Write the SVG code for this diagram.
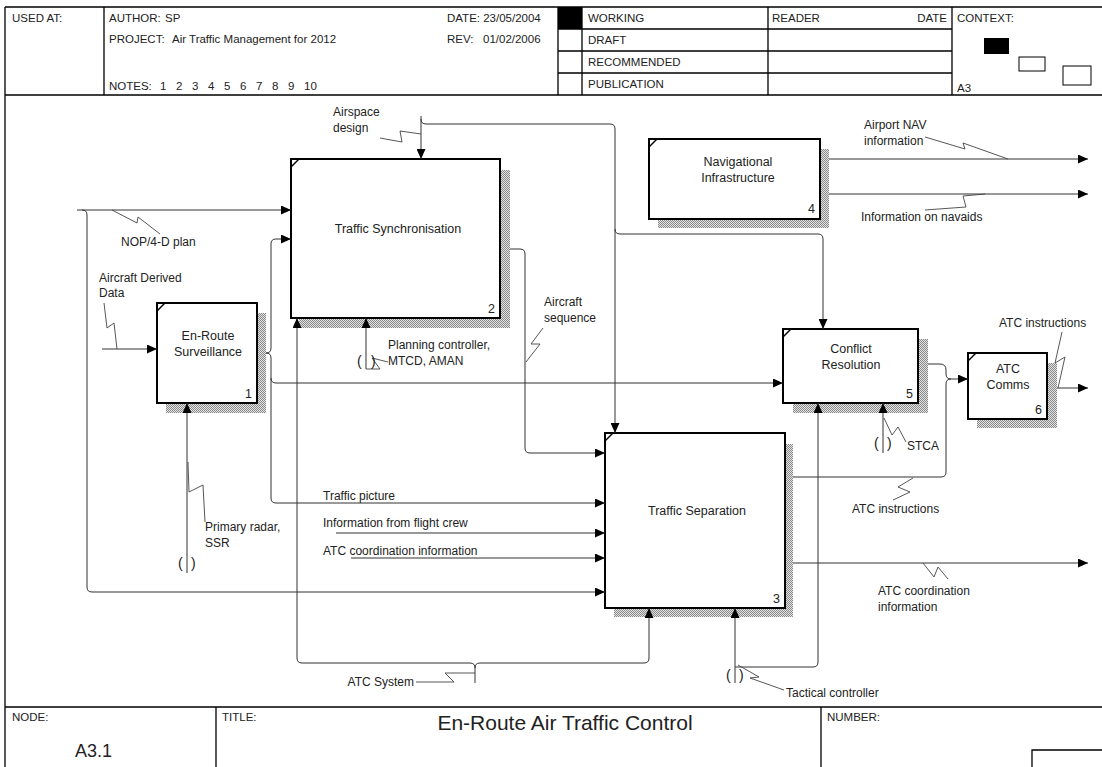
<svg xmlns="http://www.w3.org/2000/svg" width="1102" height="767" viewBox="0 0 1102 767">
<style>
text{font-family:"Liberation Sans",Arial,sans-serif;fill:#222}
.h{font-size:11.5px}
.lb{font-size:12px}
.bl{font-size:12.5px;text-anchor:middle}
.num{font-size:12.5px;text-anchor:end}
.par{font-size:14px}
.frame{stroke:#000;stroke-width:1.3;fill:none}
.box{fill:#fff;stroke:#000;stroke-width:2}
.sh{fill:url(#dots)}
.c{fill:none;stroke:#333;stroke-width:1}
.ca{fill:none;stroke:#333;stroke-width:1;marker-end:url(#ah)}
.sq{fill:none;stroke:#444;stroke-width:0.9}
</style>
<defs>
<pattern id="dots" width="2" height="2" patternUnits="userSpaceOnUse">
<rect width="2" height="2" fill="#e2e2e2"/>
<rect width="1" height="1" fill="#8a8a8a"/>
<rect x="1" y="1" width="1" height="1" fill="#8a8a8a"/>
</pattern>
<marker id="ah" markerUnits="userSpaceOnUse" markerWidth="11" markerHeight="9" refX="10" refY="4.5" orient="auto">
<path d="M0,0 L10,4.5 L0,9 z" fill="#000"/>
</marker>
</defs>
<rect width="1102" height="767" fill="#fff"/>

<g id="frame">
<path class="frame" d="M5,7 H1102 M5,7 V767 M5,95 H1102 M5,707 H1102"/>
<path class="frame" d="M104,7 V95 M558,7 V95 M582,7 V95 M768,7 V95 M952,7 V95"/>
<path class="frame" d="M558,29 H952 M558,51 H952 M558,73 H952"/>
<rect x="558" y="7" width="24" height="22" fill="#000"/>
<rect x="984" y="38" width="25" height="16" fill="#000"/>
<rect x="1019" y="57" width="26" height="14" fill="none" stroke="#000" stroke-width="1"/>
<rect x="1063" y="66" width="28" height="19" fill="none" stroke="#000" stroke-width="1"/>
<path class="frame" d="M216,707 V767 M821,707 V767 M1032,767 V750 H1102"/>
<text class="h" x="12" y="22">USED AT:</text>
<text class="h" x="109" y="22"><tspan>AUTHOR:</tspan><tspan x="165">SP</tspan></text>
<text class="h" x="109" y="43"><tspan>PROJECT:</tspan><tspan x="172">Air Traffic Management for 2012</tspan></text>
<text class="h" x="109" y="90"><tspan>NOTES:</tspan><tspan x="160">1</tspan><tspan x="176">2</tspan><tspan x="192">3</tspan><tspan x="208">4</tspan><tspan x="224">5</tspan><tspan x="240">6</tspan><tspan x="256">7</tspan><tspan x="272">8</tspan><tspan x="288">9</tspan><tspan x="304">10</tspan></text>
<text class="h" x="447" y="22">DATE: 23/05/2004</text>
<text class="h" x="447" y="43"><tspan>REV:</tspan><tspan x="483">01/02/2006</tspan></text>
<text class="h" x="588" y="22">WORKING</text>
<text class="h" x="588" y="44">DRAFT</text>
<text class="h" x="588" y="66">RECOMMENDED</text>
<text class="h" x="588" y="88">PUBLICATION</text>
<text class="h" x="772" y="22">READER</text>
<text class="h" x="947" y="22" text-anchor="end">DATE</text>
<text class="h" x="957" y="22">CONTEXT:</text>
<text class="h" x="957" y="92">A3</text>
<text class="h" x="12" y="721">NODE:</text>
<text class="h" x="222" y="721">TITLE:</text>
<text class="h" x="827" y="721">NUMBER:</text>
<text x="565" y="730" font-size="21" text-anchor="middle">En-Route Air Traffic Control</text>
<text x="75" y="757" font-size="18">A3.1</text>
</g>

<g id="node1">
<rect class="sh" x="166" y="313" width="100" height="100"/>
<rect class="box" x="157" y="303" width="100" height="100"/>
<path d="M157,311 L165,303" stroke="#000" stroke-width="1.5"/>
<text class="bl" x="208" y="340">En-Route</text>
<text class="bl" x="208" y="356">Surveillance</text>
<text class="num" x="252" y="398">1</text>
</g>

<g id="node2">
<rect class="sh" x="299" y="170" width="211" height="158"/>
<rect class="box" x="291" y="159" width="209" height="159"/>
<path d="M291,167 L299,159" stroke="#000" stroke-width="1.5"/>
<text class="bl" x="398" y="233">Traffic Synchronisation</text>
<text class="num" x="495" y="313">2</text>
</g>

<g id="node3">
<rect class="sh" x="614" y="444" width="179" height="173"/>
<rect class="box" x="605" y="433" width="180" height="175"/>
<path d="M605,441 L613,433" stroke="#000" stroke-width="1.5"/>
<text class="bl" x="697" y="515">Traffic Separation</text>
<text class="num" x="780" y="603">3</text>
</g>

<g id="node4">
<rect class="sh" x="658" y="149" width="171" height="79"/>
<rect class="box" x="649" y="139" width="171" height="80"/>
<path d="M649,147 L657,139" stroke="#000" stroke-width="1.5"/>
<text class="bl" x="738" y="166">Navigational</text>
<text class="bl" x="738" y="182">Infrastructure</text>
<text class="num" x="815" y="213">4</text>
</g>

<g id="node5">
<rect class="sh" x="793" y="339" width="135" height="74"/>
<rect class="box" x="783" y="329" width="135" height="74"/>
<path d="M783,337 L791,329" stroke="#000" stroke-width="1.5"/>
<text class="bl" x="851" y="353">Conflict</text>
<text class="bl" x="851" y="369">Resolution</text>
<text class="num" x="913" y="398">5</text>
</g>

<g id="node6">
<rect class="sh" x="977" y="363" width="80" height="65"/>
<rect class="box" x="968" y="353" width="79" height="66"/>
<path d="M968,361 L976,353" stroke="#000" stroke-width="1.5"/>
<text class="bl" x="1008" y="373">ATC</text>
<text class="bl" x="1008" y="389">Comms</text>
<text class="num" x="1042" y="414">6</text>
</g>

<g id="connectors">
<path class="ca" d="M77,210 H291"/>
<path class="ca" d="M82,210 Q87,210 87,215 V587 Q87,592 92,592 H605"/>
<path class="sq" d="M112,210 L137,223 L138,217 L160,234"/>
<text class="lb" x="121" y="246">NOP/4-D plan</text>
<path class="ca" d="M102,349 H157"/>
<path class="sq" d="M104,303 L107,328 L114,323 L117,349"/>
<text class="lb" x="99" y="282">Aircraft Derived</text>
<text class="lb" x="99" y="297">Data</text>
<path class="ca" d="M266,353 Q271,353 271,348 V244 Q271,239 276,239 H291"/>
<path class="ca" d="M266,353 Q271,353 271,358 V498 Q271,503 276,503 H605"/>
<path class="ca" d="M271,378 Q271,383 276,383 H783"/>
<text class="lb" x="323" y="500">Traffic picture</text>
<path class="ca" d="M421,116 V159"/>
<path class="ca" d="M421,119 Q421,124 426,124 H610 Q615,124 615,129 V433"/>
<path class="ca" d="M615,229 Q615,234 620,234 H818 Q823,234 823,239 V329"/>
<path class="sq" d="M380,138 L402,142 L400,131 L421,134"/>
<text class="lb" x="333" y="116">Airspace</text>
<text class="lb" x="333" y="132">design</text>
<path class="ca" d="M510,249 H520 Q525,249 525,254 V448 Q525,453 530,453 H605"/>
<path class="sq" d="M543,328 L531,344 L540,344 L526,362"/>
<text class="lb" x="544" y="306">Aircraft</text>
<text class="lb" x="544" y="322">sequence</text>
<path class="ca" d="M366,369 V318"/>
<path class="sq" d="M366,369 L380,369 L372,358 L388,362"/>
<text class="par" x="357" y="366">(</text>
<text class="par" x="371" y="366">)</text>
<text class="lb" x="388" y="349">Planning controller,</text>
<text class="lb" x="388" y="365">MTCD, AMAN</text>
<path class="ca" d="M475,683 V668 Q475,663 470,663 H302 Q297,663 297,658 V318"/>
<path class="ca" d="M475,668 Q475,663 480,663 H644 Q649,663 649,658 V608"/>
<path class="sq" d="M416,682 L454,682 L445,673 L475,673"/>
<text class="lb" x="414" y="686" text-anchor="end">ATC System</text>
<path class="ca" d="M735,683 V608"/>
<path class="ca" d="M735,667 H813 Q818,667 818,662 V403"/>
<path class="sq" d="M738,665 L759,677 L750,678 L784,690"/>
<text class="par" x="726" y="680">(</text>
<text class="par" x="739" y="680">)</text>
<text class="lb" x="786" y="697">Tactical controller</text>
<path class="ca" d="M883,453 V403"/>
<path class="sq" d="M884,418 L892,435 L898,427 L906,442"/>
<text class="par" x="874" y="448">(</text>
<text class="par" x="887" y="448">)</text>
<text class="lb" x="907" y="450">STCA</text>
<path class="ca" d="M928,364 H940 Q946,364 946,370 V374 Q946,379 951,379 H968"/>
<path class="c" d="M793,477 H941 Q946,477 946,472 V384 Q946,379 951,379"/>
<path class="sq" d="M913,478 L898,487 L910,492 L893,500"/>
<text class="lb" x="852" y="513">ATC instructions</text>
<path class="ca" d="M1057,388 H1088"/>
<path class="sq" d="M1062,332 L1055,363 L1065,357 L1058,388"/>
<text class="lb" x="999" y="327">ATC instructions</text>
<path class="ca" d="M793,563 H1088"/>
<path class="sq" d="M923,563 L934,577 L938,567 L948,579"/>
<text class="lb" x="878" y="595">ATC coordination</text>
<text class="lb" x="878" y="611">information</text>
<path class="ca" d="M336,533 H605"/>
<text class="lb" x="323" y="527">Information from flight crew</text>
<path class="ca" d="M351,558 H605"/>
<text class="lb" x="323" y="555">ATC coordination information</text>
<path class="ca" d="M187,573 V403"/>
<path class="sq" d="M188,462 L189,492 L203,485 L205,522"/>
<text class="par" x="178" y="568">(</text>
<text class="par" x="191" y="568">)</text>
<text class="lb" x="205" y="531">Primary radar,</text>
<text class="lb" x="205" y="547">SSR</text>
<path class="ca" d="M829,159 H1088"/>
<path class="ca" d="M829,194 H1088"/>
<path class="sq" d="M925,137 L965,149 L963,143 L1008,159"/>
<path class="sq" d="M985,194 L963,196 L966,207 L925,210"/>
<text class="lb" x="864" y="129">Airport NAV</text>
<text class="lb" x="864" y="145">information</text>
<text class="lb" x="861" y="221">Information on navaids</text>
</g>
</svg>
